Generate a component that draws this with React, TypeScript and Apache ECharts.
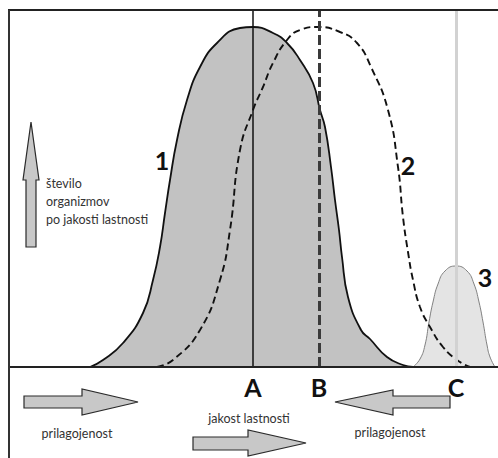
import React, { useEffect, useRef } from "react";
import * as echarts from "echarts";

// x = trait strength (jakost lastnosti), y = number of organisms
const curve1: number[][] = [
  [81, 0], [94, 7], [114, 24], [134, 54], [144, 87], [151, 120], [156, 154],
  [161, 187], [168, 227], [178, 267], [191, 300], [208, 324], [231, 339],
  [244, 340], [264, 334], [278, 324], [291, 307], [304, 284], [311, 257],
  [316, 240], [322, 200], [326, 167], [330, 137], [333, 110], [339, 70],
  [352, 37], [361, 28], [378, 10], [394, 2], [404, 0],
];
const curve2: number[][] = [
  [148, 0], [164, 7], [191, 37], [211, 87], [221, 137], [231, 217],
  [244, 257], [254, 280], [264, 304], [278, 327], [291, 337], [309, 340],
  [331, 335], [348, 324], [362, 300], [379, 257], [389, 200], [394, 150],
  [399, 115], [404, 87], [411, 60], [421, 40], [434, 20], [448, 7], [461, 0],
];
const curve3: number[][] = [
  [404, 0], [411, 8], [416, 22], [420, 45], [424, 65], [429, 83], [436, 96],
  [447, 101], [458, 96], [465, 83], [470, 65], [474, 45], [478, 22],
  [481, 10], [486, 0],
];
const markerNames = ["A", "B", "C"];
const markerValues = [244, 310, 447];
const curveNames = ["1", "2", "3"];
const curveLabelPos: number[][] = [[153, 207], [399, 202], [476, 90]];
const xAxisTitle = "jakost lastnosti";
const yAxisTitle = ["število", "organizmov", "po jakosti lastnosti"];
const adaptTitle = "prilagojenost";

const FONT = "Lato, 'Open Sans', sans-serif";

export default function App() {
  const ref = useRef<HTMLDivElement>(null);
  useEffect(() => {
    if (!ref.current) return;
    const chart = echarts.init(ref.current, undefined, { renderer: "svg" });
    const arrowStyle = { fill: "#c8c8c8", stroke: "#2a2a2a", lineWidth: 1.2 };
    const smallText = (text: string, x: number, y: number, align: string) => ({
      type: "text",
      z: 20,
      style: {
        text, x, y, fill: "#333", font: `12.5px ${FONT}`,
        align, verticalAlign: "middle", textAlign: align, textVerticalAlign: "middle",
      },
    });
    const baseGraphic: any[] = [
      { type: "line", z: 10, shape: { x1: 8, y1: 10, x2: 498, y2: 10 }, style: { stroke: "#222", lineWidth: 2 } },
      { type: "line", z: 10, shape: { x1: 9, y1: 10, x2: 9, y2: 458 }, style: { stroke: "#333", lineWidth: 2 } },
      { type: "polygon", z: 10, shape: { points: [[31, 122], [39, 180], [36, 180], [36, 247], [26, 247], [26, 180], [23, 180]] }, style: arrowStyle },
      { type: "polygon", z: 10, shape: { points: [[24, 396], [82, 396], [82, 389], [138, 402], [82, 415], [82, 408], [24, 408]] }, style: arrowStyle },
      { type: "polygon", z: 10, shape: { points: [[193, 437], [248, 437], [248, 430], [306, 443], [248, 456], [248, 450], [193, 450]] }, style: arrowStyle },
      { type: "polygon", z: 10, shape: { points: [[450, 396], [393, 396], [393, 390], [335, 402], [393, 415], [393, 408], [450, 408]] }, style: arrowStyle },
      smallText(yAxisTitle[0], 46, 183, "left"),
      smallText(yAxisTitle[1], 46, 201, "left"),
      smallText(yAxisTitle[2], 46, 219, "left"),
      smallText(adaptTitle, 77, 433, "center"),
      smallText(adaptTitle, 390, 432, "center"),
      smallText(xAxisTitle, 249, 418, "center"),
    ];
    chart.setOption({
      animation: false,
      backgroundColor: "#fff",
      grid: { left: 9, right: 0, top: 10, bottom: 91, containLabel: false, outerBoundsMode: "none" },
      xAxis: {
        type: "value", min: 0, max: 489, z: 5,
        axisLine: { show: true, lineStyle: { color: "#222", width: 2 } },
        axisTick: { show: false },
        splitLine: { show: false },
        axisLabel: {
          customValues: markerValues,
          formatter: (v: number) => markerNames[markerValues.indexOf(v)] ?? "",
          fontFamily: FONT, fontSize: 25, fontWeight: "bold", color: "#111", margin: 7,
        },
      },
      yAxis: { type: "value", min: 0, max: 357, show: false },
      series: [
        {
          type: "line", data: curve1, smooth: 0.5, showSymbol: false, symbol: "none", z: 2,
          lineStyle: { color: "#111", width: 1.8 },
          areaStyle: { color: "#c2c2c2", opacity: 1 },
          markLine: {
            silent: true, symbol: ["none", "none"], label: { show: false },
            lineStyle: { color: "#111", width: 1.5, type: "solid" },
            data: [{ xAxis: markerValues[0] }],
          },
        },
        {
          type: "line", data: curve3, smooth: 0.5, showSymbol: false, symbol: "none", z: 2,
          lineStyle: { color: "#808080", width: 1 },
          areaStyle: { color: "#e4e4e4", opacity: 1 },
          markLine: {
            silent: true, symbol: ["none", "none"], label: { show: false },
            lineStyle: { color: "#d2d2d2", width: 3, type: "solid" },
            data: [{ xAxis: markerValues[2] }],
          },
        },
        {
          type: "line", data: curve2, smooth: 0.5, showSymbol: false, symbol: "none", z: 3,
          lineStyle: { color: "#111", width: 1.9, type: [7, 4] },
          markLine: {
            silent: true, symbol: ["none", "none"], label: { show: false },
            lineStyle: { color: "#3a3a3a", width: 3, type: [10, 4] },
            data: [{ xAxis: markerValues[1] }],
          },
        },
      ],
      graphic: baseGraphic,
    });
    // curve number labels placed through the chart's own scales
    const labels = curveLabelPos.map((p, i) => {
      const px = chart.convertToPixel({ gridIndex: 0 }, p) as number[];
      return {
        type: "text", z: 20,
        style: {
          text: curveNames[i], x: px[0], y: px[1], fill: "#111",
          font: `bold 25px ${FONT}`,
          align: "center", verticalAlign: "middle", textAlign: "center", textVerticalAlign: "middle",
        },
      };
    });
    chart.setOption({ graphic: [...baseGraphic, ...labels] });
    return () => chart.dispose();
  }, []);
  return (
    <div
      ref={ref}
      style={{ position: "fixed", left: 0, top: 0, width: 498, height: 458, background: "#fff" }}
    />
  );
}
